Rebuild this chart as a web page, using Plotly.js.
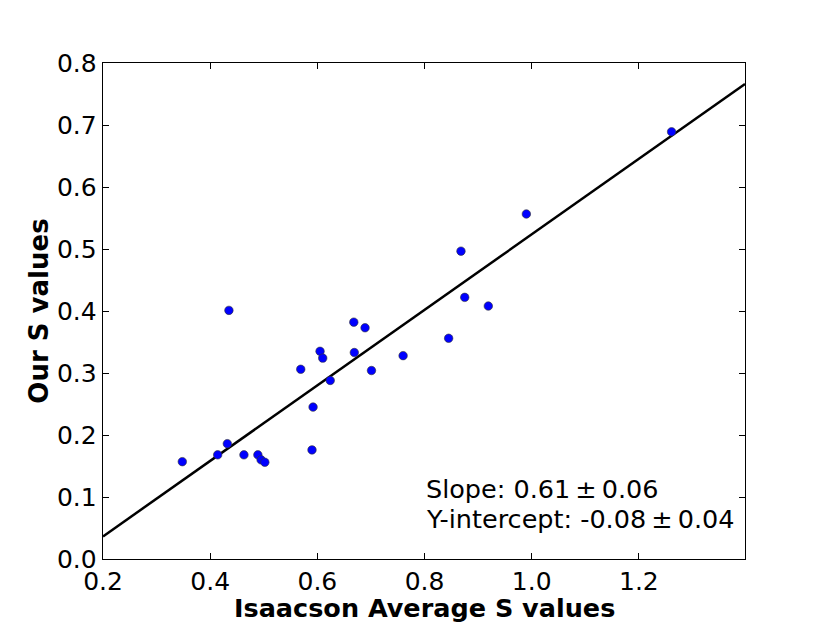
<!DOCTYPE html>
<html>
<head>
<meta charset="utf-8">
<script src="https://cdn.plot.ly/plotly-3.0.1.min.js"></script>
<style>
  html, body { margin: 0; padding: 0; background: #fff; }
  #chart { width: 830px; height: 623px; }
</style>
</head>
<body>
<div id="chart"></div>
<script>
// Isaacson average S values vs our S values
const isaacsonS = [0.348, 0.414, 0.432, 0.435, 0.463, 0.489, 0.495, 0.502,
                   0.569, 0.590, 0.592, 0.605, 0.610, 0.624, 0.668, 0.669,
                   0.689, 0.701, 0.760, 0.845, 0.868, 0.875, 0.919, 0.990, 1.261];
const ourS      = [0.157, 0.168, 0.186, 0.401, 0.168, 0.168, 0.160, 0.156,
                   0.306, 0.176, 0.245, 0.335, 0.324, 0.288, 0.382, 0.333,
                   0.373, 0.304, 0.328, 0.356, 0.4965, 0.422, 0.408, 0.5565, 0.689];

// fit parameters as drawn
const fitSlope = 0.609;
const fitIntercept = -0.0854;
const xRange = [0.2, 1.398];
const yRange = [0.0, 0.8];

const fitX = xRange.slice();
const fitY = fitX.map(x => fitSlope * x + fitIntercept);

const font = "DejaVu Sans, Verdana, sans-serif";

const traces = [
    {
        x: fitX,
        y: fitY,
        mode: 'lines',
        line: { color: '#000000', width: 2.5 },
        hoverinfo: 'skip'
    },
    {
        x: isaacsonS,
        y: ourS,
        mode: 'markers',
        marker: { color: '#0000ff', size: 8.5, line: { color: '#333333', width: 0.6 } }
    }
];

const axisCommon = {
    showline: true,
    linecolor: '#000000',
    linewidth: 1.3,
    mirror: 'ticks',
    ticks: 'inside',
    ticklen: 6,
    tickwidth: 1,
    tickcolor: '#000000',
    showgrid: false,
    zeroline: false,
    tickformat: '.1f',
    tickfont: { family: font, size: 25, color: '#000000' }
};

const layout = {
    width: 830,
    height: 623,
    margin: { l: 103, r: 85, t: 63, b: 64 },
    paper_bgcolor: '#ffffff',
    plot_bgcolor: '#ffffff',
    showlegend: false,
    font: { family: font, color: '#000000' },
    xaxis: Object.assign({}, axisCommon, {
        range: xRange,
        dtick: 0.2,
        tick0: 0.2
    }),
    yaxis: Object.assign({}, axisCommon, {
        range: yRange,
        dtick: 0.1,
        tick0: 0,
        title: { text: 'Our S values', font: { family: font, size: 26, weight: 'bold' }, standoff: 0 }
    }),
    annotations: [
        {
            // x axis title, placed by hand so it sits just under the tick labels
            xref: 'paper', yref: 'paper', x: 0.5, y: -0.0645,
            xanchor: 'center', yanchor: 'top', showarrow: false,
            text: '<b>Isaacson Average S values</b>',
            font: { family: font, size: 25.5, color: '#000000' }
        },
        {
            xref: 'paper', yref: 'paper', x: 0.5, y: 0.107,
            xanchor: 'left', yanchor: 'bottom', showarrow: false, align: 'left',
            text: 'Slope: 0.61\u2009\u00b1\u20090.06',
            font: { family: font, size: 25.5, color: '#000000' }
        },
        {
            xref: 'paper', yref: 'paper', x: 0.5, y: 0.047,
            xanchor: 'left', yanchor: 'bottom', showarrow: false, align: 'left',
            text: 'Y-intercept: -0.08\u2009\u00b1\u20090.04',
            font: { family: font, size: 25.5, color: '#000000' }
        }
    ]
};

Plotly.newPlot('chart', traces, layout, { displayModeBar: false, staticPlot: true });
</script>
</body>
</html>
